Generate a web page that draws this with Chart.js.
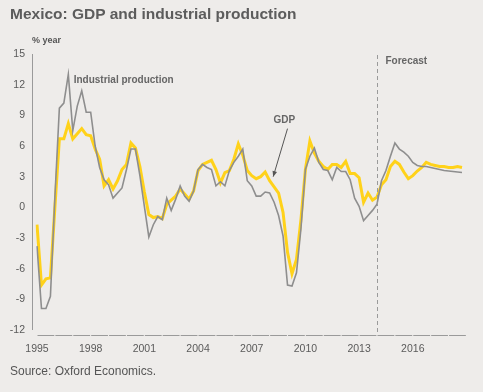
<!DOCTYPE html>
<html>
<head>
<meta charset="utf-8">
<script src="https://cdn.jsdelivr.net/npm/chart.js@4"></script>
<style>
  html, body { margin: 0; padding: 0; background: #eeecea; }
  #wrap { position: relative; width: 483px; height: 392px; background: #eeecea; }
  #title { position: absolute; left: 10px; top: 5px; font: bold 15.5px "Liberation Sans", Arial, sans-serif; color: #5c5c5c; }
  #source { position: absolute; left: 10px; top: 364px; font: 12px "Liberation Sans", Arial, sans-serif; color: #555; }
  #unit { position: absolute; left: 32px; top: 35px; font: bold 9px "Liberation Sans", Arial, sans-serif; color: #555; }
  canvas { position: absolute; left: 0; top: 0; }
</style>
</head>
<body>
<div id="wrap">
  <canvas id="chart" width="483" height="392"></canvas>
  <div id="title">Mexico: GDP and industrial production</div>
  <div id="unit">% year</div>
  <div id="source">Source: Oxford Economics.</div>
</div>
<script>
// Quarterly data, 1995 Q1 to 2018 Q4 (forecast from 2014 Q1)
var startYear = 1995;
var endYear = 2018;
var forecastStart = '2014 Q1';

var quarters = [];
for (var y = startYear; y <= endYear; y++) {
    for (var q = 1; q <= 4; q++) {
        quarters.push(y + ' Q' + q);
    }
}

var yTicks = [-12, -9, -6, -3, 0, 3, 6, 9, 12, 15];

var gdp = [
    -1.7, -7.6, -7.0, -6.9, 0.0, 6.7, 6.7, 8.2, 6.7, 7.2, 7.7, 7.1,
    7.0, 5.7, 4.7, 2.1, 2.7, 1.8, 2.6, 3.7, 4.2, 6.3, 5.8, 4.0,
    1.5, -0.7, -1.0, -0.9, -1.1, 0.3, 0.7, 1.1, 1.8, 1.3, 0.8, 1.6,
    3.6, 4.2, 4.4, 4.6, 3.7, 2.4, 3.4, 3.6, 4.7, 6.2, 5.1, 3.6,
    3.1, 2.8, 3.0, 3.45, 2.6, 2.0, 1.4, -0.5, -4.4, -6.5, -5.1, -1.2,
    3.7, 6.5, 5.3, 4.5, 4.0, 3.7, 4.2, 4.2, 3.9, 4.5, 3.3, 3.3,
    2.9, 0.5, 1.4, 0.7, 1.0, 2.2, 2.7, 4.0, 4.5, 4.2, 3.45, 2.8,
    3.1, 3.55, 3.9, 4.4, 4.2, 4.1, 4.0, 4.0, 3.9, 3.9, 4.0, 3.9
];

var industrialProduction = [
    -3.8, -9.9, -9.9, -8.7, 1.0, 9.7, 10.2, 13.0, 7.5, 9.9, 11.4, 9.3,
    9.3, 6.0, 3.9, 2.7, 2.2, 0.9, 1.4, 1.9, 3.7, 5.7, 5.7, 3.1,
    0.1, -2.9, -1.7, -0.9, -1.2, 0.9, -0.3, 0.8, 2.1, 1.1, 0.6, 1.6,
    3.7, 4.2, 3.9, 3.7, 2.1, 2.5, 2.1, 3.6, 4.4, 5.0, 5.7, 2.6,
    2.1, 1.1, 1.1, 1.5, 1.4, 0.5, -0.8, -2.8, -7.6, -7.7, -6.4, -2.1,
    3.7, 5.0, 5.8, 4.4, 3.7, 3.6, 2.7, 3.9, 3.5, 3.5, 2.7, 0.9,
    0.1, -1.3, -0.8, -0.3, 0.3, 2.6, 3.6, 5.0, 6.3, 5.7, 5.4, 5.0,
    4.4, 4.1, 4.0, 4.0, 3.9, 3.8, 3.7, 3.6, 3.55, 3.5, 3.45, 3.4
];

var axisColor = '#9a9a9a';
var textColor = '#5a5a5a';
var tickFont = { family: 'Liberation Sans', size: 10.5 };

// Axis lines, forecast divider and the labels inside the plot
var decorPlugin = {
    id: 'decor',
    afterDraw: function(chart) {
        var ctx = chart.ctx;
        var area = chart.chartArea;
        var xs = chart.scales.x;
        var ys = chart.scales.y;
        var step = xs.getPixelForValue(1) - xs.getPixelForValue(0);

        ctx.save();
        ctx.strokeStyle = axisColor;
        ctx.lineWidth = 1;

        // y axis line
        ctx.beginPath();
        ctx.moveTo(area.left - 4.5, area.top);
        ctx.lineTo(area.left - 4.5, area.bottom);
        ctx.stroke();

        // x axis, one segment per year
        var yAxis = area.bottom + 5.5;
        for (var i = 0; i < quarters.length; i += 4) {
            var x0 = xs.getPixelForValue(i);
            var x1 = x0 + step * 4;
            ctx.beginPath();
            ctx.moveTo(x0 + 0.5, yAxis);
            ctx.lineTo(x1 - 0.6, yAxis);
            ctx.stroke();
        }

        // forecast divider
        var fx = Math.round(xs.getPixelForValue(quarters.indexOf(forecastStart))) + 0.5;
        ctx.setLineDash([4, 3]);
        ctx.beginPath();
        ctx.moveTo(fx, area.top + 1);
        ctx.lineTo(fx, area.bottom + 3);
        ctx.stroke();
        ctx.setLineDash([]);

        // labels
        ctx.fillStyle = '#666';
        ctx.textBaseline = 'middle';
        ctx.textAlign = 'left';
        ctx.font = 'bold 10px "Liberation Sans", Arial, sans-serif';
        ctx.fillText('Forecast', fx + 8, ys.getPixelForValue(14.3));
        ctx.fillText('Industrial production', xs.getPixelForValue(8.2), ys.getPixelForValue(12.4));
        ctx.textAlign = 'center';
        ctx.fillText('GDP', xs.getPixelForValue(55.3), ys.getPixelForValue(8.5));

        // arrow to the GDP line
        var ax0 = xs.getPixelForValue(56.0), ay0 = ys.getPixelForValue(7.7);
        var ax1 = xs.getPixelForValue(52.8), ay1 = ys.getPixelForValue(3.0);
        ctx.strokeStyle = '#555';
        ctx.beginPath();
        ctx.moveTo(ax0, ay0);
        ctx.lineTo(ax1, ay1);
        ctx.stroke();
        var ang = Math.atan2(ay1 - ay0, ax1 - ax0);
        ctx.fillStyle = '#555';
        ctx.beginPath();
        ctx.moveTo(ax1, ay1);
        ctx.lineTo(ax1 - 6 * Math.cos(ang - 0.4), ay1 - 6 * Math.sin(ang - 0.4));
        ctx.lineTo(ax1 - 6 * Math.cos(ang + 0.4), ay1 - 6 * Math.sin(ang + 0.4));
        ctx.closePath();
        ctx.fill();
        ctx.restore();
    }
};

var ctx = document.getElementById('chart').getContext('2d');
window.myChart = new Chart(ctx, {
    type: 'line',
    data: {
        labels: quarters,
        datasets: [
            {
                label: 'Industrial production',
                data: industrialProduction,
                borderColor: '#8e8e8e',
                borderWidth: 1.6,
                pointRadius: 0,
                tension: 0
            },
            {
                label: 'GDP',
                data: gdp,
                borderColor: '#ffd21a',
                borderWidth: 3,
                pointRadius: 0,
                tension: 0
            }
        ]
    },
    options: {
        responsive: false,
        animation: false,
        events: [],
        layout: { padding: { top: 54, right: 21, left: 0, bottom: 0 } },
        plugins: {
            legend: { display: false },
            tooltip: { enabled: false }
        },
        scales: {
            x: {
                type: 'category',
                offset: false,
                grid: { display: false, drawTicks: false },
                border: { display: false },
                afterFit: function(scale) { scale.height = 62; },
                ticks: {
                    autoSkip: false,
                    maxRotation: 0,
                    padding: 13,
                    color: textColor,
                    font: tickFont,
                    callback: function(value, index) {
                        var label = quarters[index];
                        var year = parseInt(label, 10);
                        if (label.indexOf('Q1') > 0 && (year - startYear) % 3 === 0) {
                            return String(year);
                        }
                        return '';
                    }
                }
            },
            y: {
                min: yTicks[0],
                max: yTicks[yTicks.length - 1],
                grid: { display: false, drawTicks: false },
                border: { display: false },
                afterFit: function(scale) { scale.width = 37; },
                afterBuildTicks: function(scale) {
                    scale.ticks = yTicks.map(function(v) { return { value: v }; });
                },
                ticks: {
                    padding: 12,
                    color: textColor,
                    font: tickFont
                }
            }
        }
    },
    plugins: [decorPlugin]
});
</script>
</body>
</html>
